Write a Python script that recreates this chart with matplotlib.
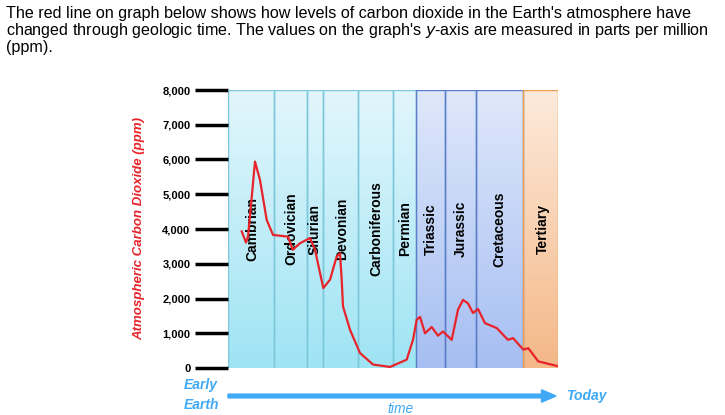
import numpy as np
import matplotlib
matplotlib.use("Agg")
import matplotlib.pyplot as plt
from matplotlib.colors import LinearSegmentedColormap

plt.rcParams["font.family"] = ["Liberation Sans", "DejaVu Sans"]

# period boundaries on a relative time axis (0 = early Earth, 330 = today)
bounds = [0, 46, 79, 95, 130, 165, 188, 217, 248, 295, 330]
periods = ["Cambrian", "Ordovician", "Silurian", "Devonian", "Carboniferous",
           "Permian", "Triassic", "Jurassic", "Cretaceous", "Tertiary"]
label_x = [24, 63.7, 87, 113.7, 148.7, 177, 202.7, 233, 271, 314.7]
groups = ["pal"] * 6 + ["mes"] * 3 + ["cen"]

# CO2 curve (ppm)
t = [13.7, 18, 20, 24, 27, 32, 38.7, 45, 60, 64.7, 72, 82, 87, 95.3, 102, 108.7, 112,
     113.7, 115, 122, 132, 145, 162, 178.7, 185, 188.7, 192, 197, 203.7, 210, 215,
     223.7, 230, 235, 240, 245, 250, 257, 268.7, 280, 285, 295.3, 300.3, 310.3, 330.3]
co2 = [3930, 3610, 3780, 5000, 5940, 5410, 4260, 3830, 3780, 3400, 3590, 3740, 3400, 2300,
       2540, 3210, 3300, 2540, 1770, 1100, 430, 100, 30, 240, 810, 1390, 1470, 1000,
       1180, 930, 1050, 810, 1680, 1960, 1860, 1580, 1700, 1290, 1150, 810, 860, 530,
       570, 190, 50]

grad = {
    "pal": ("#e2f6fc", "#9fe4f4", "#7cc7da"),
    "mes": ("#dfe8fb", "#a6bef2", "#5a7fc8"),
    "cen": ("#fdeadb", "#f4b888", "#f0a050"),
}

fig = plt.figure(figsize=(7.25, 4.15), dpi=100)
ax = fig.add_axes([228 / 725, 1 - 368 / 415, 330 / 725, 278 / 415])
ax.set_xlim(0, 330)
ax.set_ylim(0, 8000)

grad_img = np.linspace(0, 1, 200).reshape(-1, 1)
for i in range(len(periods)):
    top, bot, edge = grad[groups[i]]
    cmap = LinearSegmentedColormap.from_list("g", [top, bot])
    ax.imshow(grad_img, cmap=cmap, aspect="auto",
              extent=[bounds[i], bounds[i + 1], 0, 8000], zorder=0)
    ax.axvline(bounds[i + 1], color=edge, lw=1, zorder=1)
    ax.axvline(bounds[i], color=edge, lw=1, zorder=1)
    ax.text(label_x[i], 4000, periods[i], rotation=90, ha="center", va="center",
            fontsize=10, fontweight="bold", zorder=2)
ax.plot([0, 188], [8000, 8000], color="#7cc7da", lw=1)
ax.plot([188, 295], [8000, 8000], color="#5a7fc8", lw=1)
ax.plot([295, 330], [8000, 8000], color="#f0a050", lw=1)

ax.plot(t, co2, color="#e8232a", lw=1.6, zorder=3, solid_joinstyle="round")

for s in ax.spines.values():
    s.set_visible(False)
ax.set_xticks([])
ax.set_yticks(range(0, 8001, 1000))
ax.set_yticklabels([f"{v:,}" for v in range(0, 8001, 1000)], fontsize=8, fontweight="bold")
ax.tick_params(axis="y", length=24, width=2.5, color="black", pad=3)
ax.set_ylabel("Atmospheric Carbon Dioxide (ppm)", color="#e8232a", fontsize=9.5,
              fontweight="bold", fontstyle="italic", labelpad=12)

fig.text(0.008, 0.985, "The red line on graph below shows how levels of carbon dioxide in the Earth's atmosphere have\n"
         "changed through geologic time. The values on the graph's $\\it{y}$-axis are measured in parts per million\n(ppm).",
         ha="left", va="top", fontsize=11.6, linespacing=1.0)

blue = "#3fa9f5"
fig.text(201 / 725, 1 - 395 / 415, "Early\nEarth", color=blue, fontsize=10, fontweight="bold",
         fontstyle="italic", ha="center", va="center", linespacing=1.5)
fig.patches.append(matplotlib.patches.FancyArrow(
    228 / 725, 1 - 396 / 415, 328 / 725, 0, width=0.009, head_width=0.03, head_length=0.02,
    length_includes_head=True, color=blue, transform=fig.transFigure))
fig.text(566 / 725, 1 - 396 / 415, "Today", color=blue, fontsize=10, fontweight="bold",
         fontstyle="italic", ha="left", va="center")
fig.text(400 / 725, 1 - 409 / 415, "time", color=blue, fontsize=10, fontstyle="italic",
         ha="center", va="center")

fig.savefig("out.png", dpi=100)
